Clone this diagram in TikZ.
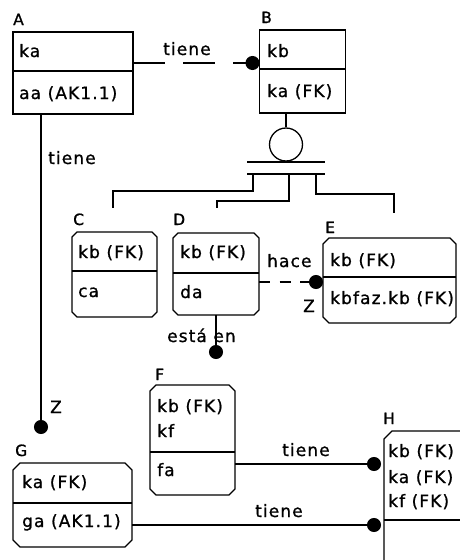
\documentclass[tikz,border=0pt]{standalone}
\usepackage{fontspec}
\setmainfont{DejaVu Sans}[LetterSpace=6.5,FakeBold=1]
\usetikzlibrary{arrows.meta}

% octagonal outline of a dependent entity: x1 y1 x2 y2 chamfer
\newcommand\chamferbox[5]{%
  \draw[edge] ({#1+#5},#2) -- ({#3-#5},#2) -- (#3,{#2+#5}) -- (#3,{#4-#5})
    -- ({#3-#5},#4) -- ({#1+#5},#4) -- (#1,{#4-#5}) -- (#1,{#2+#5}) -- cycle;}

\tikzset{
  edge/.style={line width=1.3pt, line join=miter},
  ent/.style={anchor=north west, inner sep=0pt, outer sep=0pt},
  sqent/.style={ent, draw, line width=1.3pt},
  txt/.style={anchor=base west, inner sep=0pt, font=\fontsize{17}{19}\selectfont},
  lab/.style={anchor=base west, inner sep=0pt, font=\fontsize{15.5}{17}\selectfont},
  rel/.style={edge, line cap=butt},
  dot/.style={-{Circle[length=14pt,width=14pt]}},
}

\begin{document}
\begin{tikzpicture}[x=1pt,y=-1pt]
\useasboundingbox[fill=white] (0,0) rectangle (460,560);
\clip (0,0) rectangle (460,560);

% ---- independent entities A and B
\node[sqent, minimum width=120pt, minimum height=82pt] (A) at (13,32) {};
\draw[edge] (13,71) -- (133,71);
\node[lab] (lA) at (13,25) {A};
\node[txt] (tA1) at (19,57) {ka};
\node[txt] (tA2) at (19,99) {aa (AK1.1)};

\node[sqent, minimum width=86pt, minimum height=83pt] (B) at (259.5,30) {};
\draw[edge] (259.5,69) -- (345.5,69);
\node[lab] (lB) at (261,23) {B};
\node[txt] (tB1) at (267,57) {kb};
\node[txt] (tB2) at (267,97) {ka (FK)};

% ---- subtype entities C, D, E
\node[ent, minimum width=85pt, minimum height=85pt] (C) at (72,232) {};
\chamferbox{72}{232}{157}{317}{5}
\draw[edge] (72,271) -- (157,271);
\node[lab] (lC) at (73,225) {C};
\node[txt] (tC1) at (78,258) {kb (FK)};
\node[txt] (tC2) at (78,297) {ca};

\node[ent, minimum width=86pt, minimum height=82pt] (D) at (173,233) {};
\chamferbox{173}{233}{259}{315}{5}
\draw[edge] (173,273) -- (259,273);
\node[lab] (lD) at (173,225) {D};
\node[txt] (tD1) at (180,258) {kb (FK)};
\node[txt] (tD2) at (180,298) {da};

\node[ent, minimum width=133pt, minimum height=85pt] (E) at (323,238) {};
\chamferbox{323}{238}{456}{323}{6}
\draw[edge] (323,277) -- (456,277);
\node[lab] (lE) at (325,233) {E};
\node[txt] (tE1) at (330,266) {kb (FK)};
\node[txt] (tE2) at (330,304) {kbfaz.kb (FK)};

% ---- entities F, G, H
\node[ent, minimum width=85pt, minimum height=110pt] (F) at (150,385) {};
\chamferbox{150}{385}{235}{495}{6}
\draw[edge] (150,452) -- (235,452);
\node[lab] (lF) at (155,380) {F};
\node[txt] (tF1) at (157,412) {kb (FK)};
\node[txt] (tF2) at (157,437) {kf};
\node[txt] (tF3) at (157,476) {fa};

\node[ent, minimum width=119pt, minimum height=84pt] (G) at (13,463) {};
\chamferbox{13}{463}{132}{547}{7}
\draw[edge] (13,503) -- (132,503);
\node[lab] (lG) at (15,456) {G};
\node[txt] (tG1) at (22,488) {ka (FK)};
\node[txt] (tG2) at (22,527) {ga (AK1.1)};

\node[ent, minimum width=90pt, minimum height=140pt] (H) at (384,431) {};
\draw[edge] (384,570) -- (384,439) -- (392,431) -- (470,431);
\draw[edge] (384,520) -- (470,520);
\node[lab] (lH) at (383,424) {H};
\node[txt] (tH1) at (388,457) {kb (FK)};
\node[txt] (tH2) at (388,483) {ka (FK)};
\node[txt] (tH3) at (388,507) {kf (FK)};

% ---- category (subtype) symbol under B
\node[circle, draw, line width=1.3pt, minimum size=33pt, inner sep=0pt] (cat) at (286,144.5) {};
\draw[edge] (cat.north |- B.south) -- (cat.north);
\draw[edge] (247,162) -- (325,162);
\draw[edge] (247,174) -- (325,174);
\coordinate (sc) at (253,174);
\coordinate (sd) at (289,174);
\coordinate (se) at (316,174);
\coordinate (ec) at (113,208);
\coordinate (ed) at (217,208);
\coordinate (ee) at (394,213);
\draw[edge] (sc) -- ++(0,17) -| (ec);
\draw[edge] (sd) -- ++(0,27) -| (ed);
\draw[edge] (se) -- ++(0,20) -| (ee);

% ---- relationships
\draw[rel, dot, dash pattern=on 32pt off 18pt]
  ([yshift=10pt]A.east) -- ([yshift=10pt]A.east -| B.west);
\node[txt] (rAB) at (163,55) {tiene};

\coordinate (gz) at (41,434);
\draw[rel, dot] ([xshift=-32pt]A.south) -- (gz);
\node[txt] (rAG) at (48,164) {tiene};
\node[txt] (zAG) at (50,413) {Z};

\draw[rel, dot, dash pattern=on 11pt off 9.5pt]
  ([yshift=-8pt]D.east) -- ([yshift=-8pt]D.east -| E.west);
\node[txt] (rDE) at (267,267) {hace};
\node[txt] (zDE) at (303,312) {Z};

\coordinate (dz) at (216,359);
\draw[rel, dot] (D.south) -- (dz);
\node[txt] (rD) at (167,342) {está en};

\draw[rel, dot, shorten >=3pt]
  ([yshift=-24pt]F.east) -- ([yshift=-24pt]F.east -| H.west);
\node[txt] (rFH) at (282,456) {tiene};

\draw[rel, dot, shorten >=3pt]
  ([yshift=-20pt]G.east) -- ([yshift=-20pt]G.east -| H.west);
\node[txt] (rGH) at (255,517) {tiene};
\end{tikzpicture}
\end{document}
